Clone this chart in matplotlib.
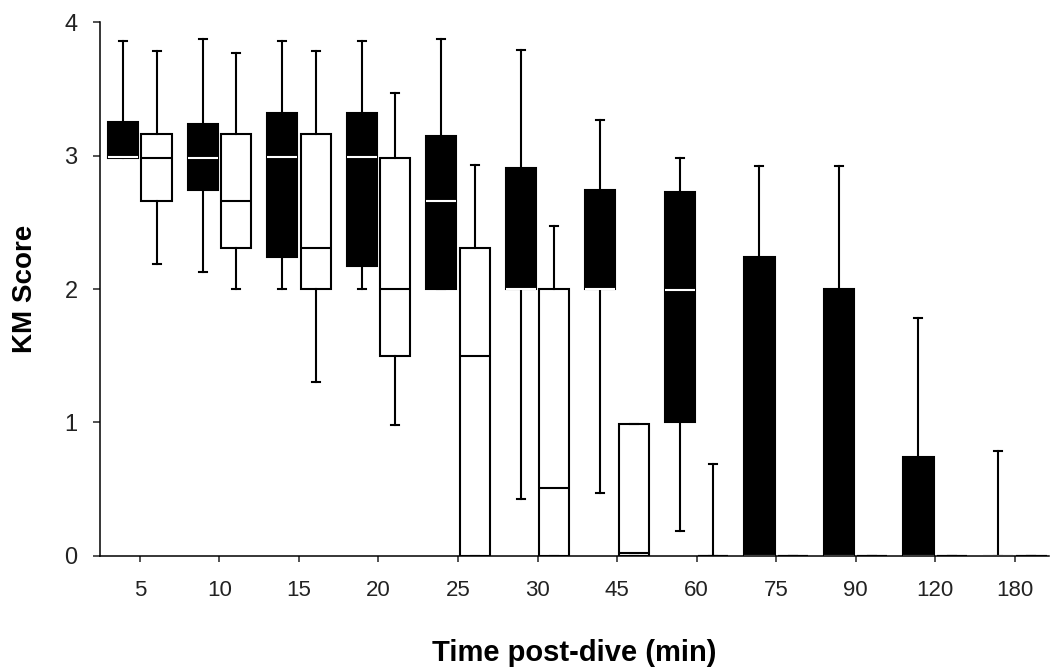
import matplotlib
matplotlib.use("Agg")
import matplotlib.pyplot as plt

plt.rcParams["font.family"] = ["Liberation Sans", "DejaVu Sans"]

times = ["5", "10", "15", "20", "25", "30", "45", "60", "75", "90", "120", "180"]

# black boxes
black_lo = [3.0, 2.13, 2.0, 2.0, 2.0, 0.43, 0.47, 0.19, 0, 0, 0, 0]
black_q1 = [2.98, 2.74, 2.24, 2.17, 2.0, 2.0, 2.0, 1.0, 0, 0, 0, 0]
black_med = [2.99, 2.98, 2.99, 2.99, 2.66, 2.0, 2.0, 1.99, 0, 0, 0, 0]
black_q3 = [3.25, 3.24, 3.32, 3.32, 3.15, 2.91, 2.74, 2.73, 2.24, 2.0, 0.74, 0]
black_hi = [3.86, 3.87, 3.86, 3.86, 3.87, 3.79, 3.27, 2.98, 2.92, 2.92, 1.78, 0.79]

# white boxes
white_lo = [2.19, 2.0, 1.3, 0.98, 0, 0, 0, 0, 0, 0, 0, 0]
white_q1 = [2.66, 2.31, 2.0, 1.5, 0, 0, 0, 0, 0, 0, 0, 0]
white_med = [2.98, 2.66, 2.31, 2.0, 1.5, 0.51, 0.02, 0, 0, 0, 0, 0]
white_q3 = [3.16, 3.16, 3.16, 2.98, 2.31, 2.0, 0.99, 0, 0, 0, 0, 0]
white_hi = [3.78, 3.77, 3.78, 3.47, 2.93, 2.47, 0.99, 0.69, 0, 0, 0, 0]


def make_stats(lo, q1, med, q3, hi):
    return [dict(whislo=a, q1=b, med=c, q3=d, whishi=e, fliers=[])
            for a, b, c, d, e in zip(lo, q1, med, q3, hi)]


fig = plt.figure(figsize=(10.51, 6.69), dpi=100)
ax = fig.add_axes([0.095, 0.169, 0.903, 0.798])

idx = list(range(len(times)))
lw = 1.5

ax.bxp(make_stats(black_lo, black_q1, black_med, black_q3, black_hi),
       positions=[i - 0.21 for i in idx], widths=0.38, capwidths=0.1,
       showfliers=False, patch_artist=True,
       boxprops=dict(facecolor="black", edgecolor="black", linewidth=lw),
       medianprops=dict(color="white", linewidth=lw),
       whiskerprops=dict(color="black", linewidth=lw),
       capprops=dict(color="black", linewidth=lw))

ax.bxp(make_stats(white_lo, white_q1, white_med, white_q3, white_hi),
       positions=[i + 0.21 for i in idx], widths=0.38, capwidths=0.1,
       showfliers=False, patch_artist=True,
       boxprops=dict(facecolor="white", edgecolor="black", linewidth=lw),
       medianprops=dict(color="black", linewidth=lw),
       whiskerprops=dict(color="black", linewidth=lw),
       capprops=dict(color="black", linewidth=lw))

ax.set_xlim(-0.503, 11.43)
ax.set_ylim(0, 4)
ax.set_xticks(idx)
ax.set_xticklabels(times)
ax.set_yticks([0, 1, 2, 3, 4])

for s in ["top", "right"]:
    ax.spines[s].set_visible(False)
for s in ["left", "bottom"]:
    ax.spines[s].set_linewidth(1.1)

ax.tick_params(axis="y", length=5, width=1.1, pad=11, labelsize=17, colors="#222222")
ax.tick_params(axis="x", length=4, width=1.1, pad=13, labelsize=16, colors="#222222")

ax.set_ylabel("KM Score", fontsize=20, fontweight="bold", labelpad=19)
ax.set_xlabel("Time post-dive (min)", fontsize=21, fontweight="bold", labelpad=28)

plt.savefig("out.png", dpi=100)
